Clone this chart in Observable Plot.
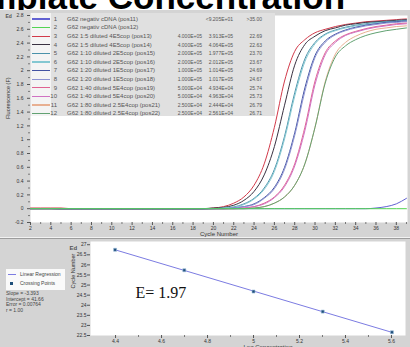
<!DOCTYPE html>
<html><head><meta charset="utf-8">
<script src="https://cdn.jsdelivr.net/npm/d3@7"></script>
<script src="https://cdn.jsdelivr.net/npm/@observablehq/plot@0.6"></script>
<style>
body{margin:0;width:410px;height:347px;overflow:hidden;background:#fff;position:relative;font-family:"Liberation Sans",Arial,sans-serif;}
.abs{position:absolute;}
#topPanel{left:0;top:10px;width:410px;height:227px;background:#d4d4d4;}
#sep1{left:0;top:237px;width:410px;height:1px;background:#f2f2f2;}
#sep2{left:0;top:238px;width:410px;height:1px;background:#9c9c9c;}
#botPanel{left:0;top:239px;width:410px;height:108px;background:#d4d4d4;}
#tbl{left:30px;top:13px;width:245px;height:103px;background:#e0e0e0;}
.cell{position:absolute;white-space:nowrap;color:#555;}
</style>
</head><body>
<svg class="abs" style="left:0;top:0" width="410" height="12"><text id="title" x="-53" y="8.5" font-family="Liberation Sans, Arial" font-weight="bold" font-size="35" fill="#000">Template Concentration</text></svg>
<div id="topPanel" class="abs"></div>
<div id="sep1" class="abs"></div>
<div id="sep2" class="abs"></div>
<div id="botPanel" class="abs"></div>
<div id="tbl" class="abs"></div>
<div id="stdLegend" class="abs"></div>
<script>
// ---------- amplification data ----------
const cycleNumbers = d3.range(1, 41);
const sampleIds = [1,2,3,4,5,6,7,8,9,10,11,12];
const sampleNames = ["G62 negativ cDNA (pos11)","G62 negativ cDNA (pos12)","G62 1:5 diluted 4E5cop (pos13)","G62 1:5 diluted 4E5cop (pos14)","G62 1:10 diluted 2E5cop (pos15)","G62 1:10 diluted 2E5cop (pos16)","G62 1:20 diluted 1E5cop (pos17)","G62 1:20 diluted 1E5cop (pos18)","G62 1:40 diluted 5E4cop (pos19)","G62 1:40 diluted 5E4cop (pos20)","G62 1:80 diluted 2.5E4cop (pos21)","G62 1:80 diluted 2.5E4cop (pos22)"];
const givenConc = ["","","4.000E+05","4.000E+05","2.000E+05","2.000E+05","1.000E+05","1.000E+05","5.000E+04","5.000E+04","2.500E+04","2.500E+04"];
const calcConc = ["<9.205E+01","","3.913E+05","4.064E+05","1.977E+05","2.012E+05","1.014E+05","1.017E+05","4.934E+04","4.963E+04","2.444E+04","2.561E+04"];
const ctValues = [">35.00","","22.69","22.63","23.70","23.67","24.69","24.67","25.74","25.73","26.79","26.71"];
const sampleColors = ["#6262d2","#52d452","#d23a4a","#3a3242","#4a92aa","#84c8d2","#4252a2","#8c92d2","#e06292","#d072c2","#e8b092","#62a272"];

const fluor01 = [0,0,0,0,0,0,0,0,0,0, 0,0,0,0,0,0,0,0,0,0, 0,0,0,0,0,0,0,0,0,0, 0,0,0,0,0,0.01,0.03,0.07,0.15,0.24];
const fluor02 = [0,0,0,0,0,0,0,0,0,0, 0,0,0,0,0,0,0,0,0,0, 0,0,0,0,0,0,0,0,0,0, 0,0,0,0,0,0,0,0,0,0];
const fluor03 = [0.01,0.01,0.01,0.01,0.01,0,0,0,0,0, 0,0,0,0,0,0,0,0,0,0.01, 0.03,0.08,0.17,0.34,0.65,1.18,1.85,2.28,2.45,2.55, 2.60,2.64,2.67,2.69,2.71,2.72,2.73,2.74,2.75,2.75];
const fluor04 = [0,0,0,0,-0.01,-0.01,-0.01,-0.01,-0.01,-0.01, -0.01,-0.01,-0.01,-0.01,-0.01,-0.01,-0.01,-0.01,0,0.01, 0.02,0.05,0.12,0.25,0.49,0.90,1.50,2.08,2.38,2.50, 2.58,2.62,2.66,2.68,2.70,2.71,2.72,2.73,2.74,2.75];
const fluor05 = [0,0,0,0,0,0,0,0,0,0, 0,0,0,0,0,0,0,0,0,0, 0.01,0.025,0.07,0.15,0.30,0.57,1.05,1.68,2.17,2.41, 2.53,2.59,2.63,2.66,2.68,2.70,2.71,2.72,2.73,2.73];
const fluor06 = [0,0,0,0,0,0,0,0,0,0, 0,0,0,0,0,0,0,0,0,0, 0.01,0.02,0.06,0.14,0.28,0.54,1.01,1.63,2.13,2.39, 2.52,2.58,2.62,2.65,2.67,2.69,2.70,2.71,2.72,2.72];
const fluor07 = [0,0,0,0,-0.01,-0.01,-0.01,-0.01,-0.01,-0.01, -0.01,-0.01,-0.01,-0.01,-0.01,-0.01,-0.01,-0.01,-0.01,0, 0,0.01,0.03,0.07,0.16,0.31,0.60,1.10,1.75,2.22, 2.43,2.53,2.59,2.63,2.66,2.68,2.70,2.71,2.72,2.72];
const fluor08 = [0,0,0,0,0,0,0,0,0,0, 0,0,0,0,0,0,0,0,0,0, 0,0.01,0.03,0.06,0.15,0.29,0.57,1.06,1.70,2.19, 2.41,2.52,2.58,2.62,2.65,2.67,2.69,2.70,2.71,2.71];
const fluor09 = [0,0,0,0,0,0,0,0,0,0, 0,0,0,0,0,0,0,0,0,0, 0,0,0.01,0.03,0.08,0.17,0.34,0.65,1.18,1.85, 2.26,2.43,2.52,2.57,2.61,2.64,2.66,2.68,2.69,2.70];
const fluor10 = [0,0,0,0,0,0,0,0,0,0, 0,0,0,0,0,0,0,0,0,0, 0,0,0.01,0.03,0.07,0.16,0.32,0.62,1.13,1.80, 2.23,2.41,2.51,2.56,2.60,2.63,2.65,2.67,2.68,2.69];
const fluor11 = [0,0,0,0,0,0,0,0,0,0, 0,0,0,0,0,0,0,0,0,0, 0,0,0,0.01,0.03,0.08,0.17,0.34,0.65,1.18, 1.84,2.24,2.41,2.50,2.56,2.60,2.62,2.64,2.65,2.66];
const fluor12 = [0,0,0,0,0,0,0,0,0,0, 0,0,0,0,0,0,0,0,0,0, 0,0,0,0.01,0.03,0.08,0.17,0.34,0.65,1.18, 1.82,2.20,2.36,2.45,2.51,2.55,2.58,2.60,2.62,2.63];

const xTickValues = [2,4,6,8,10,12,14,16,18,20,22,24,26,28,30,32,34,36,38];
const xMinorTicks = [3,5,7,9,11,13,15,17,19,21,23,25,27,29,31,33,35,37,39];
const yTickValues = [-0.2,0,0.2,0.4,0.6,0.8,1,1.2,1.4,1.6,1.8,2,2.2,2.4,2.6,2.8];
const yMinorTicks = [-0.1,0.1,0.3,0.5,0.7,0.9,1.1,1.3,1.5,1.7,1.9,2.1,2.3,2.5,2.7];

// ---------- standard curve data ----------
const logConc = [4.398, 4.699, 5.0, 5.301, 5.602];
const meanCt = [26.75, 25.735, 24.68, 23.685, 22.66];
const stdXTicks = [4.4,4.6,4.8,5,5.2,5.4,5.6];
const stdXMinor = [4.5,4.7,4.9,5.1,5.3,5.5];
const stdYTicks = [22.5,23,23.5,24,24.5,25,25.5,26,26.5,27];
const stdStats = ["Slope = -3.393","Intercept = 41.66","Error = 0.00764","r = 1.00"];
const efficiencyLabel = "E= 1.97";

// ---------- build ----------
const fluorSeries = [fluor01,fluor02,fluor03,fluor04,fluor05,fluor06,fluor07,fluor08,fluor09,fluor10,fluor11,fluor12];
const drawOrder = [2,3,4,5,6,7,8,9,10,11,0,1];
const ampRows = [];
for (const s of drawOrder) {
  cycleNumbers.forEach((c, j) => ampRows.push({sample: sampleIds[s], cycle: c, f: fluorSeries[s][j], color: sampleColors[s]}));
}
const font = "Liberation Sans, Arial, sans-serif";
const fmt1 = d => String(+(+d).toFixed(1));

const topPlot = Plot.plot({
  width: 410, height: 227,
  marginLeft: 30, marginRight: 3, marginTop: 5, marginBottom: 15,
  x: {domain: [2, 39.1]},
  y: {domain: [-0.2, 2.8]},
  style: {background: "transparent", fontFamily: font, color: "#333", overflow: "visible"},
  marks: [
    Plot.frame({fill: "white", stroke: "none"}),
    Plot.line(ampRows, {x: "cycle", y: "f", z: "sample", stroke: "color", strokeWidth: 1, curve: "monotone-x", clip: true}),
    Plot.axisX(xTickValues, {anchor: "bottom", tickSize: 3, tickPadding: 1, fontSize: 5, label: null, tickFormat: d => String(d), stroke: "#555"}),
    Plot.axisX(xMinorTicks, {anchor: "bottom", tickSize: 2, tickPadding: 1, fontSize: 5, label: null, tickFormat: () => "", stroke: "#777"}),
    Plot.axisY(yTickValues, {anchor: "left", tickSize: 3, tickPadding: 4, fontSize: 5, label: null, tickFormat: fmt1, stroke: "#555"}),
    Plot.axisY(yMinorTicks, {anchor: "left", tickSize: 2, tickPadding: 1, fontSize: 5, label: null, tickFormat: () => "", stroke: "#777"}),
    Plot.text(["Cycle Number"], {text: d => d, frameAnchor: "bottom", dy: 13, fontSize: 6, fill: "#333"}),
    Plot.text(["Fluorescence (F)"], {text: d => d, frameAnchor: "left", dx: -22, rotate: -90, fontSize: 5.5, fill: "#333"}),
    Plot.text(["Ed"], {text: d => d, frameAnchor: "top-left", dx: -25, dy: -1, fontSize: 5, fontWeight: "bold", fill: "#555", textAnchor: "start"})
  ]
});
topPlot.style.position = "absolute"; topPlot.style.left = "0px"; topPlot.style.top = "0px";
document.getElementById("topPanel").appendChild(topPlot);

// legend table
const tbl = document.getElementById("tbl");
const sw = document.createElement("div");
sw.className = "cell"; sw.style.cssText = "left:1px;top:0;width:20px;height:103px;background:#f4f4f4;";
tbl.appendChild(sw);
for (let i = 0; i < 12; i++) {
  const cy = 6 + i * 8.6;
  const line = document.createElement("div");
  line.className = "cell";
  line.style.cssText = `left:2px;top:${cy - 0.6}px;width:18px;height:1.2px;background:${sampleColors[i]};`;
  tbl.appendChild(line);
  const mk = (txt, left, width, align, size) => {
    const d = document.createElement("div");
    d.className = "cell";
    d.textContent = txt;
    d.style.cssText = `left:${left}px;top:${cy - 4.3}px;width:${width}px;height:8.6px;line-height:8.6px;text-align:${align};font-size:${size}px;`;
    tbl.appendChild(d);
  };
  mk(String(sampleIds[i]), 17, 10, "right", 6);
  mk(sampleNames[i], 37, 130, "left", 6);
  mk(givenConc[i], 140, 32, "right", 5);
  mk(calcConc[i], 168, 35, "right", 5);
  mk(ctValues[i], 205, 27, "right", 5);
}

// standard curve plot
const stdPoints = logConc.map((x, i) => ({x, ct: meanCt[i]}));
const botPlot = Plot.plot({
  width: 410, height: 108,
  marginLeft: 90, marginRight: 5, marginTop: 2, marginBottom: 12,
  x: {domain: [4.291, 5.661]},
  y: {domain: [22.5, 27.16]},
  style: {background: "transparent", fontFamily: font, color: "#333", overflow: "visible"},
  marks: [
    Plot.frame({fill: "white", stroke: "none"}),
    Plot.linearRegressionY(stdPoints, {x: "x", y: "ct", stroke: "#7c7ce2", strokeWidth: 1, ci: 0}),
    Plot.dot(stdPoints, {x: "x", y: "ct", symbol: "square", r: 1.7, fill: "#1f4f7a", stroke: "#9fc0dd", strokeWidth: 0.6}),
    Plot.axisX(stdXTicks, {anchor: "bottom", tickSize: 3, tickPadding: 1, fontSize: 5, label: null, tickFormat: fmt1, stroke: "#555"}),
    Plot.axisX(stdXMinor, {anchor: "bottom", tickSize: 2, tickPadding: 1, fontSize: 5, label: null, tickFormat: () => "", stroke: "#777"}),
    Plot.axisY(stdYTicks, {anchor: "left", tickSize: 3, tickPadding: 1, fontSize: 5, label: null, tickFormat: d => String(d), stroke: "#555"}),
    Plot.text(["Cycle Number"], {text: d => d, frameAnchor: "left", dx: -17, rotate: -90, fontSize: 5.5, fill: "#333"}),
    Plot.text(["Log Concentration"], {text: d => d, frameAnchor: "bottom", dx: 20, dy: 13, fontSize: 6, fill: "#333"}),
    Plot.text(["Ed"], {text: d => d, frameAnchor: "top-left", dx: -21, dy: 4, fontSize: 6, fontWeight: "bold", fill: "#555", textAnchor: "start"}),
    Plot.text([efficiencyLabel], {text: d => d, frameAnchor: "top-left", dx: 45, dy: 51.5, fontSize: 16, fontFamily: "Liberation Serif, Times New Roman, serif", fill: "#111", textAnchor: "start", lineAnchor: "middle"})
  ]
});
botPlot.style.position = "absolute"; botPlot.style.left = "0px"; botPlot.style.top = "0px";
document.getElementById("botPanel").appendChild(botPlot);

// standard curve legend (left)
const sl = document.getElementById("stdLegend");
sl.style.cssText = "left:0;top:0;width:410px;height:347px;pointer-events:none;";
const box = document.createElement("div");
box.className = "cell"; box.style.cssText = "left:6px;top:269px;width:59px;height:21px;background:#fafafa;";
sl.appendChild(box);
const lr = document.createElement("div");
lr.className = "cell"; lr.style.cssText = "left:8px;top:273.5px;width:8px;height:1px;background:#7c7ce2;";
sl.appendChild(lr);
const cp = document.createElement("div");
cp.className = "cell"; cp.style.cssText = "left:10px;top:282px;width:2.5px;height:2.5px;background:#1f4f7a;";
sl.appendChild(cp);
const addTxt = (t, x, y, size) => {
  const d = document.createElement("div");
  d.className = "cell"; d.textContent = t;
  d.style.cssText = `left:${x}px;top:${y - 3}px;height:6px;line-height:6px;font-size:${size}px;color:#444;`;
  sl.appendChild(d);
};
addTxt("Linear Regression", 20, 274, 5);
addTxt("Crossing Points", 20, 283, 5);
stdStats.forEach((t, i) => addTxt(t, 6, 293.3 + i * 5.5, 5));
</script>
</body></html>
